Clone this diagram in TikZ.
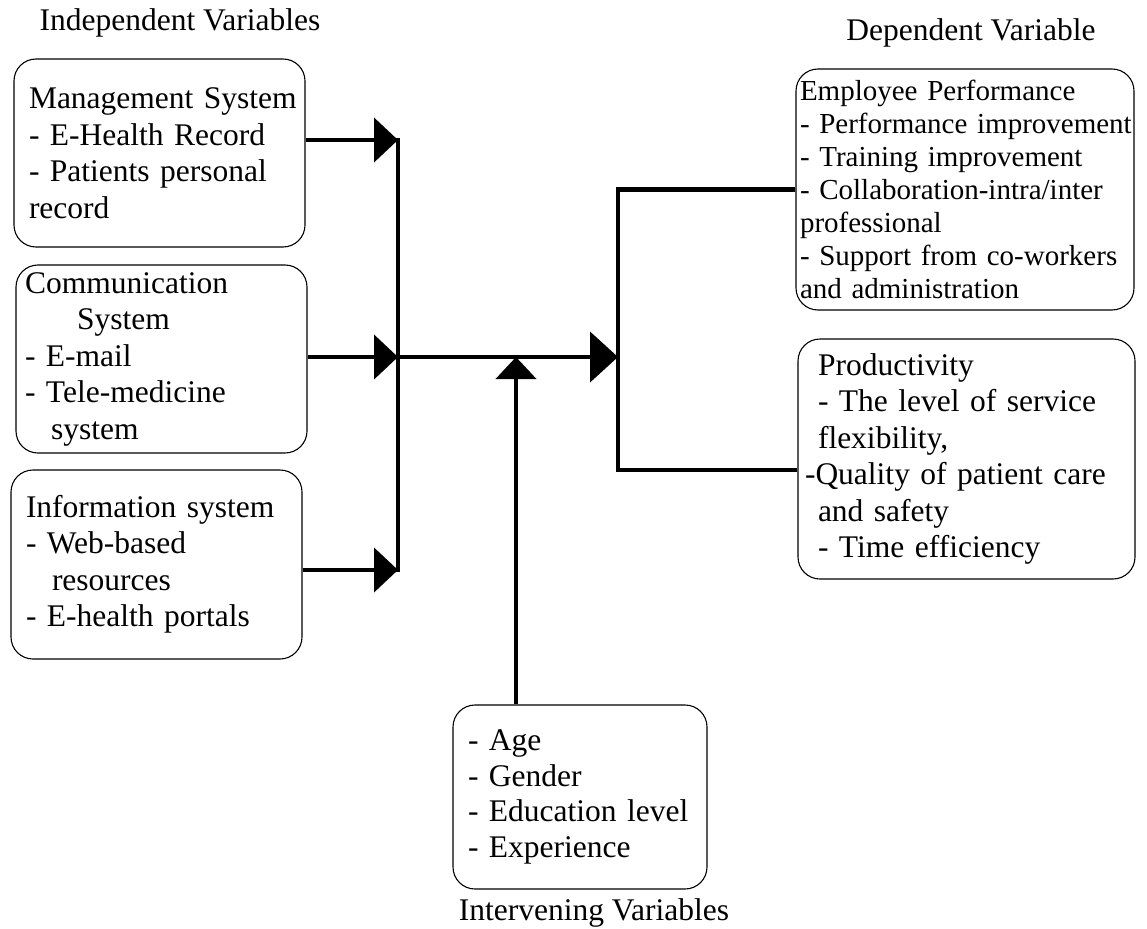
\documentclass[tikz,border=0pt]{standalone}
\usepackage{fontspec}
\setmainfont{Liberation Serif}
\usetikzlibrary{arrows.meta,positioning}
\tikzset{
  varbox/.style={draw=black,line width=1.1pt,rounded corners=22pt,align=left,
    font=\fontsize{31.5}{36.5}\selectfont},
  headlabel/.style={font=\fontsize{31.5}{36.5}\selectfont,inner sep=0pt},
  flowline/.style={line width=4.5pt},
  flowarrow/.style={-{Triangle[length=24pt,width=44pt]},line width=4.5pt},
  mainarrow/.style={-{Triangle[length=28pt,width=50pt]},line width=4.5pt},
  uparrow/.style={-{Triangle[length=22pt,width=40pt]},line width=4.5pt}
}

\begin{document}
\begin{tikzpicture}[x=1pt,y=-1pt]
  \useasboundingbox (0,0) rectangle (1147,928);

  \node[headlabel] (indepLabel) at (180,23) {Independent Variables};
  \node[headlabel] (depLabel) at (971,33) {Dependent Variable};

  \node[varbox,minimum width=291pt,minimum height=188pt,inner xsep=15pt,text width=261pt]
    (mgmt) at (159.5,153) {\mbox{Management System}\\- E-Health Record\\- Patients personal\\record};
  \node[varbox,minimum width=291pt,minimum height=188pt,inner xsep=9pt,text width=273pt]
    (comm) at (161.5,359) {Communication\\\hspace*{52pt}System\\- E-mail\\- Tele-medicine\\\hspace*{26pt}system};
  \node[varbox,minimum width=291pt,minimum height=189pt,inner xsep=15pt,text width=261pt]
    (info) at (156.5,564.5) {Information system\\- Web-based\\\hspace*{26pt}resources\\- E-health portals};

  \node[varbox,minimum width=338pt,minimum height=241pt,inner xsep=4pt,text width=330pt,
    font=\fontsize{29}{33}\selectfont]
    (emp) at (965,189.5) {Employee Performance\\\mbox{- Performance improvement}\\- Training improvement\\- Collaboration-intra/inter\\professional\\- Support from co-workers\\and administration};
  \node[varbox,minimum width=337pt,minimum height=240pt,inner xsep=20pt,text width=297pt]
    (prod) at (966.5,459) {Productivity\\- The level of service\\flexibility,\\\hspace*{-13pt}-Quality of patient care\\and safety\\- Time efficiency};

  \node[varbox,minimum width=254pt,minimum height=184pt,inner xsep=15pt,text width=224pt,
    font=\fontsize{31.5}{35.7}\selectfont]
    (interv) at (580,797) {- Age\\- Gender\\- Education level\\- Experience};
  \node[headlabel,below=9pt of interv,xshift=14pt] (intervLabel) {Intervening Variables};

  \coordinate (busTop) at (398,140);
  \coordinate (busMid) at (398,357);
  \coordinate (busBot) at (398,570);
  \coordinate (split) at (618,357);
  \coordinate (join) at (516,357);

  \draw[flowline,line cap=rect] (busTop) -- (busBot);
  \draw[flowarrow] (mgmt.east |- busTop) -- (busTop);
  \draw[flowarrow] (comm.east |- busMid) -- (busMid);
  \draw[flowarrow] (info.east |- busBot) -- (busBot);
  \draw[mainarrow] (busMid) -- (split);
  \draw[flowline] (emp.west) -| (split) |- ([yshift=-11pt]prod.west);
  \draw[uparrow] (interv.north -| join) -- (join);
\end{tikzpicture}
\end{document}
